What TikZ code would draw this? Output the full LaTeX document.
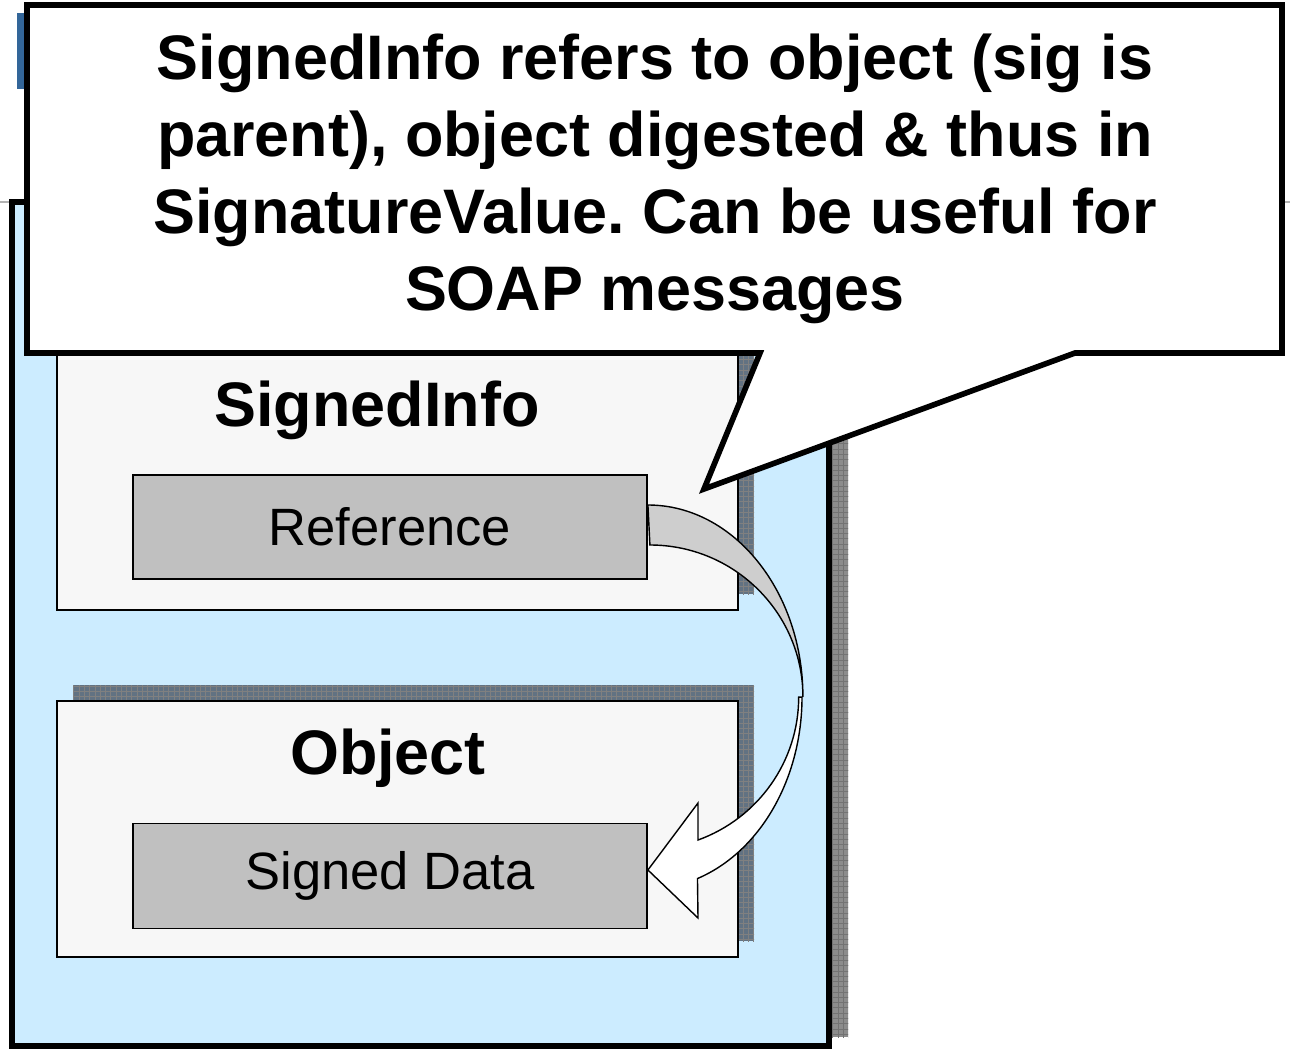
\documentclass[tikz,border=0pt]{standalone}
\usepackage{fontspec}
\setmainfont{Liberation Sans}
\usetikzlibrary{patterns}
\frenchspacing

\definecolor{sigblue}{RGB}{204,236,255}
\definecolor{boxgray}{RGB}{247,247,247}
\definecolor{refgray}{RGB}{192,192,192}
\definecolor{arrowgray}{RGB}{206,206,206}
\definecolor{barblue}{RGB}{51,102,153}
\definecolor{shadowblue}{RGB}{98,114,130}
\definecolor{shadowgray}{RGB}{140,140,140}

\begin{document}
\begin{tikzpicture}[x=0.02cm, y=-0.02cm,
    partbox/.style={rectangle, draw, fill=boxgray, line width=1.1pt, minimum width=13.62cm},
    databox/.style={rectangle, draw, fill=refgray, line width=1.1pt, minimum width=10.28cm,
        font=\fontsize{29.9}{36}\selectfont},
    headtext/.style={font=\bfseries\fontsize{35.8}{43.8}\selectfont, anchor=base},
    shadowfill/.style={fill=shadowblue, postaction={pattern=grid, pattern color=black!50}}]
    \useasboundingbox (0,0) rectangle (1290,1050);

    % slide leftovers
    \draw[gray!60, line width=1pt] (0,202) -- (1290,202);
    \fill[barblue] (17,13) rectangle (25,89);

    % signature
    \fill[shadowgray, postaction={pattern=grid, pattern color=black!55}] (29,190) rectangle (848,1037);
    \node[draw, fill=sigblue, line width=3.4pt, minimum width=16.34cm, minimum height=16.88cm] (sig) at (420.5,624) {};

    \fill[shadowfill] (73,314) rectangle (754,594);
    \node[partbox, minimum height=5.6cm] (siginfo) at (397.5,470) {};
    \node[headtext] (siginfotext) at (377,426) {SignedInfo};
    \node[databox, minimum height=2.08cm] (ref) at (390,527) {Reference};

    \fill[shadowfill] (73,685) rectangle (754,941);
    \node[partbox, minimum height=5.12cm] (obj) at (397.5,829) {};
    \node[headtext] (objtext) at (388,774) {Object};
    \node[databox, minimum height=2.1cm] (data) at (390,876) {Signed Data};

    % curved arrow, back side then front side
    \filldraw[fill=arrowgray, line width=0.8pt] (ref.east |- 0,505)
        arc[start angle=-90, end angle=0, x radius=155, y radius=192]
        arc[start angle=0, end angle=-90, x radius=153, y radius=152] -- cycle;
    \filldraw[fill=white, line width=0.8pt] (802,697)
        arc[start angle=0, end angle=71, x radius=155, y radius=192]
        -- (698,918) -- (data.east |- 0,870) -- (698,803) -- (698,840)
        arc[start angle=70, end angle=0, x radius=153, y radius=152] -- cycle;

    % callout
    \filldraw[fill=white, line width=3.2pt] (27,5) -- (1282,5) -- (1282,353) -- (1075,353)
        -- (704,489) -- (760,353) -- (27,353) -- cycle;
    \node[headtext, anchor=center, align=center] (note) at (655,179)
        {SignedInfo refers to object (sig is\\parent), object digested \& thus in\\SignatureValue. Can be useful for\\SOAP messages};
\end{tikzpicture}
\end{document}
